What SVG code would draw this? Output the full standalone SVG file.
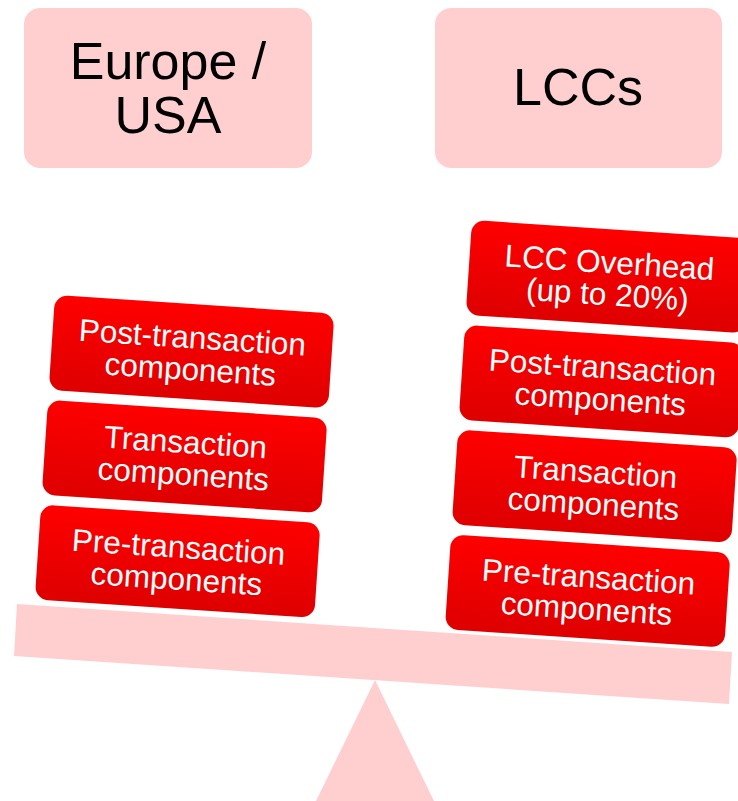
<svg xmlns="http://www.w3.org/2000/svg" width="738" height="801" viewBox="0 0 738 801">
  <defs>
    <linearGradient id="redGrad" x1="0" y1="0" x2="0" y2="1">
      <stop offset="0" stop-color="#FF0000"/>
      <stop offset="1" stop-color="#DE0000"/>
    </linearGradient>
    <style>
      .head { fill: #FFCFCF; }
      .headText { font-family: "Liberation Sans", Arial, sans-serif; font-size: 52px; fill: #000; text-anchor: middle; }
      .box { fill: url(#redGrad); }
      .boxText { font-family: "Liberation Sans", Arial, sans-serif; font-size: 31.5px; fill: #FFFFFF; text-anchor: middle; }
      .scale { fill: #FFCFCF; }
    </style>
  </defs>
  <rect width="738" height="801" fill="#FFFFFF"/>

  <g id="header-europe">
    <rect class="head" x="24" y="8" width="288" height="160" rx="16"/>
    <text class="headText" x="168" y="79">Europe /</text>
    <text class="headText" x="168" y="133">USA</text>
  </g>
  <g id="header-lccs">
    <rect class="head" x="435" y="8" width="287" height="160" rx="16"/>
    <text class="headText" x="578" y="105">LCCs</text>
  </g>

  <g id="beam">
    <polygon class="scale" points="17,604 732,652 729,704 14,656"/>
  </g>
  <g id="fulcrum">
    <polygon class="scale" points="375,680 434,801 316,801"/>
  </g>

  <g id="left-stack" transform="translate(55,295) rotate(3.8)">
    <g id="left-post">
      <rect class="box" x="0" y="0" width="280" height="95" rx="13"/>
      <text class="boxText" x="140" y="44">Post-transaction</text>
      <text class="boxText" x="140" y="76">components</text>
    </g>
    <g id="left-transaction">
      <rect class="box" x="0" y="105" width="280" height="95" rx="13"/>
      <text class="boxText" x="140" y="149">Transaction</text>
      <text class="boxText" x="140" y="181">components</text>
    </g>
    <g id="left-pre">
      <rect class="box" x="0" y="210" width="280" height="95" rx="13"/>
      <text class="boxText" x="140" y="254">Pre-transaction</text>
      <text class="boxText" x="140" y="286">components</text>
    </g>
  </g>

  <g id="right-stack" transform="translate(472,220) rotate(3.8)">
    <g id="right-overhead">
      <rect class="box" x="0" y="0" width="280" height="95" rx="13"/>
      <text class="boxText" x="140" y="44">LCC Overhead</text>
      <text class="boxText" x="140" y="76">(up to 20%)</text>
    </g>
    <g id="right-post">
      <rect class="box" x="0" y="105" width="280" height="95" rx="13"/>
      <text class="boxText" x="140" y="149">Post-transaction</text>
      <text class="boxText" x="140" y="181">components</text>
    </g>
    <g id="right-transaction">
      <rect class="box" x="0" y="210" width="280" height="95" rx="13"/>
      <text class="boxText" x="140" y="254">Transaction</text>
      <text class="boxText" x="140" y="286">components</text>
    </g>
    <g id="right-pre">
      <rect class="box" x="0" y="315" width="280" height="95" rx="13"/>
      <text class="boxText" x="140" y="359">Pre-transaction</text>
      <text class="boxText" x="140" y="391">components</text>
    </g>
  </g>

  <g id="connectors"/>
</svg>
